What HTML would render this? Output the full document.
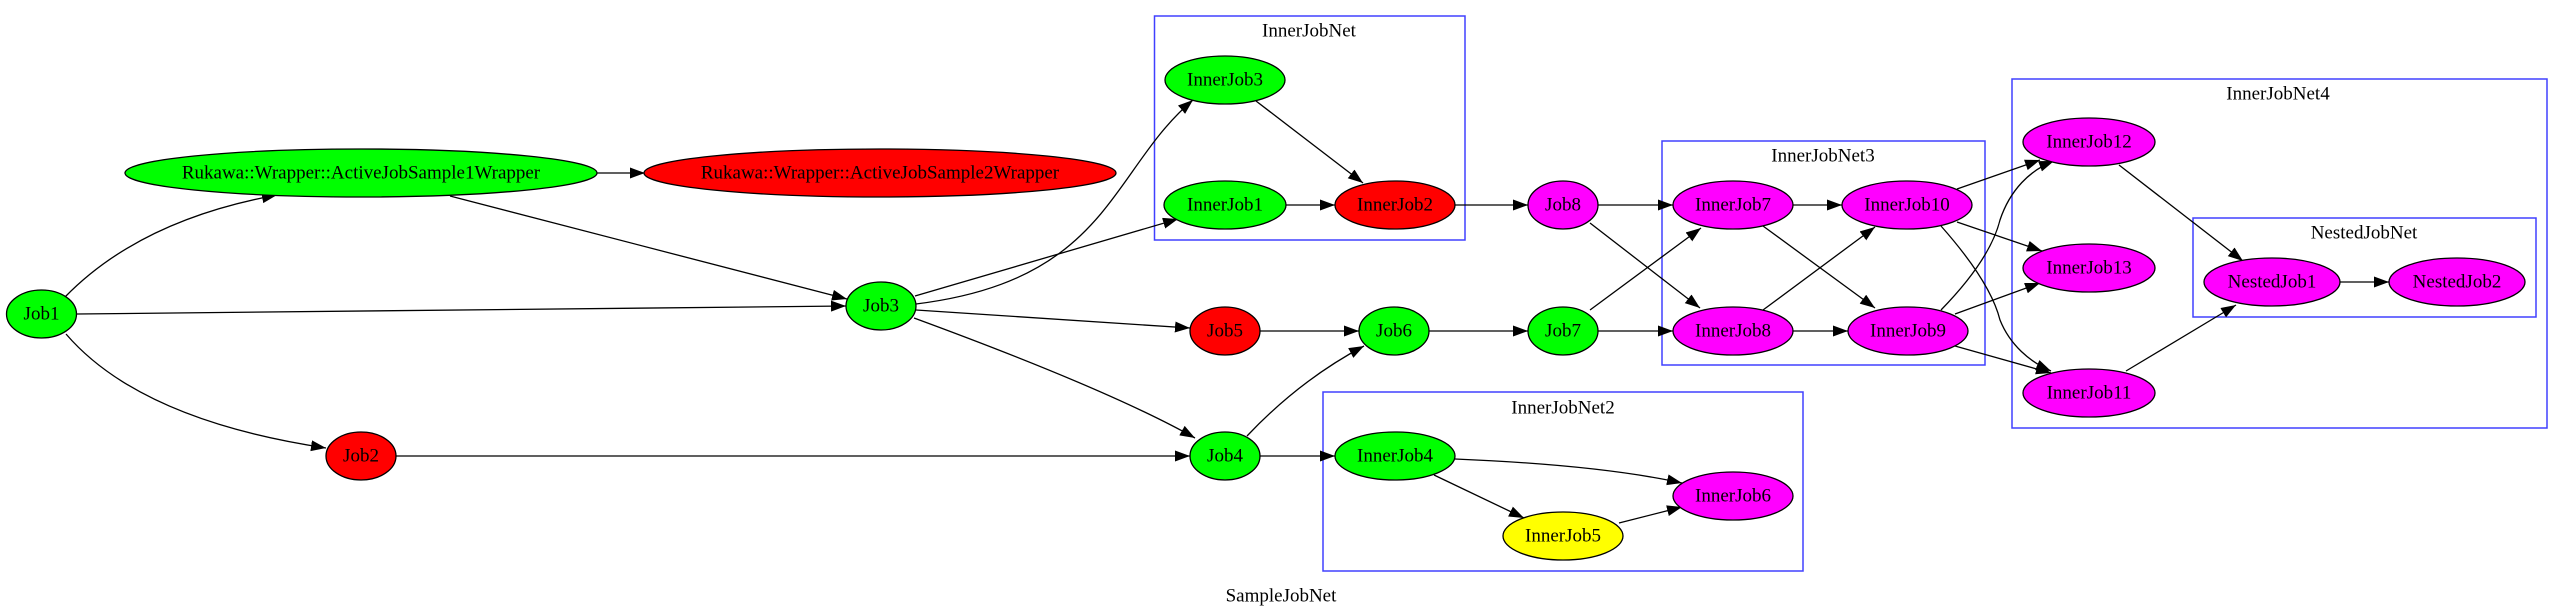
<!DOCTYPE html>
<html><head><meta charset="utf-8"><style>
html,body{margin:0;padding:0;background:#fff;}
svg{display:block;}
text{font-family:"Liberation Serif",serif;font-size:19px;text-anchor:middle;dominant-baseline:central;fill:#000;}
.c{fill:none;stroke:#0000ff;stroke-width:1.5;stroke-opacity:.75;}
.n{stroke:#000;stroke-width:1.3;}
.e{fill:none;stroke:#000;stroke-width:1.3;marker-end:url(#a);}
</style></head><body>
<svg width="2563" height="616" viewBox="0 0 2563 616" xmlns="http://www.w3.org/2000/svg">
<defs><marker id="a" markerUnits="userSpaceOnUse" markerWidth="16" markerHeight="12" refX="15" refY="5.5" orient="auto"><path d="M0,0 L15,5.5 L0,11 Z" fill="#000"/></marker></defs>
<!-- clusters -->
<rect class="c" x="1154.5" y="16" width="310.5" height="224"/>
<text x="1309" y="31">InnerJobNet</text>
<rect class="c" x="1662" y="141" width="323" height="224"/>
<text x="1823" y="156">InnerJobNet3</text>
<rect class="c" x="1323" y="392" width="480" height="179"/>
<text x="1563" y="408">InnerJobNet2</text>
<rect class="c" x="2012" y="79" width="535" height="349"/>
<text x="2278" y="94">InnerJobNet4</text>
<rect class="c" x="2193" y="218" width="343" height="99"/>
<text x="2364" y="233">NestedJobNet</text>
<text x="1281" y="596">SampleJobNet</text>
<!-- edges -->
<path class="e" d="M65,297 Q140,220 277,195"/>
<path class="e" d="M77,314 L846,306"/>
<path class="e" d="M66,334 Q140,420 326,448"/>
<path class="e" d="M597,173 L645,173"/>
<path class="e" d="M450,196 L847,299"/>
<path class="e" d="M915,296 L1178,219"/>
<path class="e" d="M916,304 C1110,280 1110,170 1193,100"/>
<path class="e" d="M916,310 L1190,328"/>
<path class="e" d="M914,318 Q1110,390 1195,438"/>
<path class="e" d="M396,456 L1190,456"/>
<path class="e" d="M1256,101 L1363,183"/>
<path class="e" d="M1286,205 L1335,205"/>
<path class="e" d="M1455,205 L1528,205"/>
<path class="e" d="M1598,205 L1673,205"/>
<path class="e" d="M1590,223 L1700,308"/>
<path class="e" d="M1260,331 L1359,331"/>
<path class="e" d="M1429,331 L1528,331"/>
<path class="e" d="M1247,436 Q1300,380 1364,346"/>
<path class="e" d="M1260,456 L1335,456"/>
<path class="e" d="M1590,310 L1701,228"/>
<path class="e" d="M1598,331 L1673,331"/>
<path class="e" d="M1792,205 L1842,205"/>
<path class="e" d="M1763,226 L1875,308"/>
<path class="e" d="M1763,310 L1875,227"/>
<path class="e" d="M1792,331 L1848,331"/>
<path class="e" d="M1957,189 L2040,160"/>
<path class="e" d="M1957,222 L2042,251"/>
<path class="e" d="M1941,226 C1980,270 1995,300 2000,320 C2010,345 2030,362 2051,371"/>
<path class="e" d="M1941,310 C1980,270 1995,240 2000,220 C2010,190 2030,170 2054,161"/>
<path class="e" d="M1955,314 L2040,283"/>
<path class="e" d="M1955,346 L2051,373"/>
<path class="e" d="M1455,459 Q1600,465 1682,483"/>
<path class="e" d="M1434,475 L1524,518"/>
<path class="e" d="M1619,523 L1682,507"/>
<path class="e" d="M2119,165 L2243,261"/>
<path class="e" d="M2126,371 L2236,305"/>
<path class="e" d="M2340,282 L2389,282"/>
<!-- nodes -->
<g class="n">
<ellipse cx="41.5" cy="314" rx="35" ry="24" fill="#00ff00"/>
<ellipse cx="361" cy="173" rx="236" ry="24" fill="#00ff00"/>
<ellipse cx="880" cy="173" rx="236" ry="24" fill="#ff0000"/>
<ellipse cx="881" cy="306" rx="35" ry="24" fill="#00ff00"/>
<ellipse cx="361" cy="456" rx="35" ry="24" fill="#ff0000"/>
<ellipse cx="1225" cy="80" rx="60" ry="24" fill="#00ff00"/>
<ellipse cx="1225" cy="205" rx="61" ry="24" fill="#00ff00"/>
<ellipse cx="1395" cy="205" rx="60" ry="24" fill="#ff0000"/>
<ellipse cx="1563" cy="205" rx="35" ry="24" fill="#ff00ff"/>
<ellipse cx="1733" cy="205" rx="60" ry="24" fill="#ff00ff"/>
<ellipse cx="1907" cy="205" rx="65" ry="24" fill="#ff00ff"/>
<ellipse cx="1733" cy="331" rx="60" ry="24" fill="#ff00ff"/>
<ellipse cx="1908" cy="331" rx="60" ry="24" fill="#ff00ff"/>
<ellipse cx="1225" cy="331" rx="35" ry="24" fill="#ff0000"/>
<ellipse cx="1394" cy="331" rx="35" ry="24" fill="#00ff00"/>
<ellipse cx="1563" cy="331" rx="35" ry="24" fill="#00ff00"/>
<ellipse cx="1225" cy="456" rx="35" ry="24" fill="#00ff00"/>
<ellipse cx="1395" cy="456" rx="60" ry="24" fill="#00ff00"/>
<ellipse cx="1733" cy="496" rx="60" ry="24" fill="#ff00ff"/>
<ellipse cx="1563" cy="536" rx="60" ry="24" fill="#ffff00"/>
<ellipse cx="2089" cy="142" rx="66" ry="24" fill="#ff00ff"/>
<ellipse cx="2089" cy="268" rx="66" ry="24" fill="#ff00ff"/>
<ellipse cx="2089" cy="393" rx="66" ry="24" fill="#ff00ff"/>
<ellipse cx="2272" cy="282" rx="68" ry="24" fill="#ff00ff"/>
<ellipse cx="2457" cy="282" rx="68" ry="24" fill="#ff00ff"/>
</g>
<text x="41.5" y="314">Job1</text>
<text x="361" y="173">Rukawa::Wrapper::ActiveJobSample1Wrapper</text>
<text x="880" y="173">Rukawa::Wrapper::ActiveJobSample2Wrapper</text>
<text x="881" y="306">Job3</text>
<text x="361" y="456">Job2</text>
<text x="1225" y="80">InnerJob3</text>
<text x="1225" y="205">InnerJob1</text>
<text x="1395" y="205">InnerJob2</text>
<text x="1563" y="205">Job8</text>
<text x="1733" y="205">InnerJob7</text>
<text x="1907" y="205">InnerJob10</text>
<text x="1733" y="331">InnerJob8</text>
<text x="1908" y="331">InnerJob9</text>
<text x="1225" y="331">Job5</text>
<text x="1394" y="331">Job6</text>
<text x="1563" y="331">Job7</text>
<text x="1225" y="456">Job4</text>
<text x="1395" y="456">InnerJob4</text>
<text x="1733" y="496">InnerJob6</text>
<text x="1563" y="536">InnerJob5</text>
<text x="2089" y="142">InnerJob12</text>
<text x="2089" y="268">InnerJob13</text>
<text x="2089" y="393">InnerJob11</text>
<text x="2272" y="282">NestedJob1</text>
<text x="2457" y="282">NestedJob2</text>
</svg>
</body></html>
